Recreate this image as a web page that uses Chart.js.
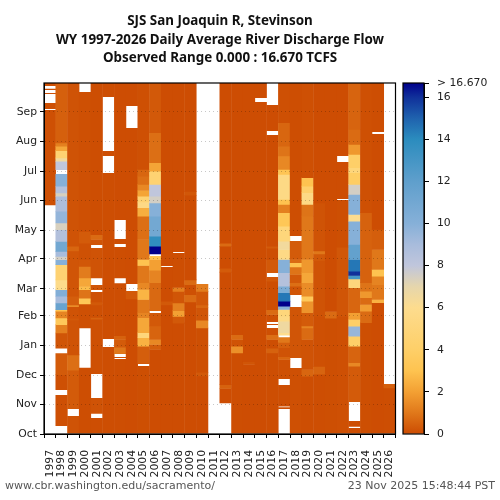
<!DOCTYPE html>
<html>
<head>
<meta charset="utf-8">
<script src="https://cdn.jsdelivr.net/npm/chart.js@4"></script>
<style>
body { margin:0; background:#fff; width:500px; height:500px; overflow:hidden; position:relative; }
canvas { position:absolute; top:0; }
.foot { position:absolute; top:479px; font:11px "DejaVu Sans"; color:#555; white-space:nowrap; }
#title { position:absolute; left:0; top:11px; width:440px; text-align:center; font:bold 13.4px/18.6px "Noto Sans"; color:#111; }
</style>
</head>
<body>
<canvas id="heat" width="500" height="500" style="left:0"></canvas>
<canvas id="bar" width="102" height="500" style="left:398px"></canvas>
<div id="title">SJS San Joaquin R, Stevinson<br>WY 1997-2026 Daily Average River Discharge Flow<br>Observed Range 0.000 : 16.670 TCFS</div>
<div class="foot" style="left:5px">www.cbr.washington.edu/sacramento/</div>
<div class="foot" style="right:5px">23 Nov 2025 15:48:44 PST</div>
<script>
const years = ['1997','1998','1999','2000','2001','2002','2003','2004','2005','2006','2007','2008','2009','2010','2011','2012','2013','2014','2015','2016','2017','2018','2019','2020','2021','2022','2023','2024','2025','2026'];
const monthDays = [0,31,61,92,123,151,182,212,243,273,304,335];
const monthLabels = ['Oct','Nov','Dec','Jan','Feb','Mar','Apr','May','Jun','Jul','Aug','Sep'];
const colorTicks = [0,2,4,6,8,10,12,14,16,16.67];
const rangeMax = 16.67;

// flow value -> colour
const stopValues = [0,1,2,3,4,6,7,8,9,10,12,14,15,16,16.67];
const stopColors = ['#cc4c02','#e0781a','#f3a033','#fec350','#fecf68','#fddc8e','#e6d6ac','#c0c6dc','#a8bcdc','#86b0d8','#5f9fcc','#2b8cbe','#1f62ae','#10309a','#00008b'];

// runs per water year: [first day, last day, TCFS], day 0 = Oct 1, holes = no data
const wy1997 = [[238,337,.1],[338,344.3,.1],[353.6,354.7,.1],[357.8,359,.1],[362,365,.1]];
const wy1998 = [[8.3,40.6,.08],[45.8,61.4,.1],[61.4,83.9,.35],[89,104.7,.2],[104.7,113.4,1.2],[113.4,120.3,3.4],[120.3,127.3,1.3],[127.3,129,3],[129,135.9,11.5],[135.9,142.9,9],[142.9,149.8,10.2],[149.8,160,5.8],[160,175.8,4.5],[175.8,181,10],[181,184.4,7.5],[184.4,189.6,9],[189.6,200,11],[200,212.2,8.6],[212.2,219.1,7.4],[219.1,231.3,9.6],[231.3,246.9,8.8],[246.9,250.3,7.4],[250.3,257.3,8.5],[257.3,270.4,10],[274.6,283.3,8],[283.3,286.7,6.5],[286.7,294.4,4.5],[294.4,298.9,2.2],[298.9,302.3,1.2],[302.3,365,.45]];
const wy1999 = [[0,18.7,.15],[26,66,.35],[66,82,.8],[82,118,.15],[118,120,.3],[120,132,.15],[132,134,1.5],[134,143,.4],[143,190,.2],[190,195,.6],[195,365,.15]];
const wy2000 = [[0,69,.05],[110,135,.1],[135,141,3.3],[141,149.8,.9],[149.8,153,2.8],[153,162,2.2],[162,174,1.1],[174,181,.25],[181,198,.12],[198,210,.35],[210,355.7,.08]];
const wy2001 = [[0,16.7,.05],[21,37.5,.15],[62.4,119,.08],[119,121,.5],[121,134,.1],[134,137,.3],[137,147.7,.1],[149.8,155,.2],[162,193.5,.15],[196.6,202,.2],[202,207,.7],[207,365,.05]];
const wy2002 = [[0,90.5,.04],[98.8,271.5,.04],[289,294.4,.04],[350.5,365,.04]];
const wy2003 = [[0,78,.05],[79,80.1,.05],[83.2,84,.9],[84,90,1],[90,98,.35],[98,102,.5],[102,156.7,.05],[162,194.5,.05],[197.6,202.8,.05],[222.6,365,.03]];
const wy2004 = [[0,140,.03],[140,148.8,.3],[156,318.3,.03],[341,365,.03]];
const wy2005 = [[0,70.7,.06],[72.7,73.8,.3],[73.8,91,.4],[91,99.8,2.5],[99.8,105,5],[105,120.6,2.2],[120.6,125.8,1.3],[125.8,139.6,1],[139.6,150,2.6],[150,157,1.4],[157,175,1],[175,181.2,3],[181.2,202,1],[202,226.3,.8],[226.3,235,2.4],[235,241,5.5],[241,247.1,4.5],[247.1,253,2.1],[253,259.3,1.4],[259.3,267.9,.8],[267.9,274.9,.6],[274.9,365,.1]];
const wy2006 = [[0,87.6,.03],[87.6,92.8,.4],[92.8,98,1.4],[98,112,.55],[112,125.8,.3],[127.9,129,.6],[129,157,.65],[157,170,1.3],[170,181.2,2],[181.2,185,3],[187,195,16.7],[195,205.5,13.8],[205.5,226.3,11],[226.3,240,10],[240,247,7.5],[247,259.3,8],[259.3,273,4.5],[273,281.8,2.1],[281.8,313,.8],[313,365,.3]];
const wy2007 = [[0,134,.03],[134,137.7,.3],[137.7,173.7,.03],[174.8,365,.03]];
const wy2008 = [[0,115,.03],[115,122,.3],[122,128,2],[128,136,1.2],[136,148,.2],[148,152,1.2],[152,188.3,.05],[189.3,365,.03]];
const wy2009 = [[0,137,.03],[137,144.6,.7],[144.6,155,.08],[155,160,.7],[160,248,.03],[248,252,.25],[252,365,.03]];
const wy2010 = [[0,60,.03],[60,64,.3],[64,110,.06],[110,118,1.4],[118,131,.2],[131,134,.6],[134,148,.25],[148,156,1.1]];
const wy2011 = [];
const wy2012 = [[32,47,.03],[47,51,.5],[51,168,.03],[168,172,.35],[172,195,.03],[195,198,.7],[198,365,.03]];
const wy2013 = [[0,84,.05],[84,91,1.6],[91,98,.15],[98,103,.7],[103,365,.03]];
const wy2014 = [[0,72,.03],[72,75,.2],[75,365,.03]];
const wy2015 = [[0,345.3,.03],[349.5,365,.03]];
const wy2016 = [[0,84,.05],[84,89,.5],[89,98,.05],[98,103,.8],[103,110.3,.1],[113.4,114.4,.1],[116.5,124,.1],[124,129,.7],[129,158.5,.05],[158.5,160,.3],[160,163.3,.25],[167.5,181,.3],[181,193,.05],[193,195,.35],[195,311,.03],[315.2,342.2,.03]];
const wy2017 = [[26,27.7,.05],[28.7,50.9,.05],[57.1,77.2,.1],[77.2,80,.6],[80,89.4,.15],[89.4,95,.4],[95,100.5,1],[102.5,105,6],[105,117.1,6.6],[117.1,122.3,5.5],[122.3,129.2,5],[129.2,132.7,10],[132.7,137.9,16.7],[137.9,146.6,14.5],[146.6,153.5,10.5],[153.5,167.4,8.5],[167.4,181.2,10],[181.2,191.6,5.5],[191.6,200.3,6.5],[200.3,215.9,5],[215.9,229.8,3.3],[229.8,238.5,1.2],[238.5,243.7,3],[243.7,269.7,5.5],[269.7,274.9,3.2],[274.9,288.7,1.4],[288.7,299,.9],[299,323.4,.6],[323.4,365,.1]];
const wy2018 = [[0,68.6,.1],[79,132,.2],[144.5,153.5,.2],[153.5,157,.8],[157,165.6,.3],[165.6,173.3,.9],[173.3,177.8,3],[177.8,181.2,.7],[181.2,200.7,.35],[205.9,365,.05]];
const wy2019 = [[0,59.9,.05],[59.9,66.8,.6],[66.8,98,.15],[98,110,.7],[110,112,1.3],[112,125.8,.35],[125.8,137.9,1.7],[137.9,143,3.4],[143,157,1.5],[157,167.4,2.2],[167.4,181.2,1.8],[181.2,226.3,1],[226.3,238.5,.9],[238.5,250.6,5.5],[250.6,257.5,4.2],[257.5,266.2,3],[266.2,365,.1]];
const wy2020 = [[0,62,.05],[62,70,.55],[70,122,.1],[122,180,.15],[180,187,.3],[187,190,1],[190,240,.15],[240,365,.03]];
const wy2021 = [[0,120,.06],[120,127,.7],[127,365,.03]];
const wy2022 = [[0,122,.1],[122,181,.2],[181,194,.25],[194,243.4,.06],[244.4,282.9,.03],[289.2,365,.03]];
const wy2023 = [[0,6.2,.05],[7.6,13.5,.05],[33.2,70.3,.35],[70.3,73.8,1.4],[73.8,91,.55],[91,101.5,4],[101.5,111.9,9.5],[111.9,118.8,4],[118.8,125.8,2],[125.8,151.8,.6],[151.8,161,5],[161,164.6,13],[164.6,169,16],[169,181.2,14.5],[181.2,196.9,11.8],[196.9,221,10],[221,228,6],[228,248.9,10],[248.9,259.3,7.5],[259.3,271.4,3.8],[271.4,276.6,5],[276.6,290.5,4],[290.5,300.9,1.8],[300.9,316.5,.7],[316.5,365,.55]];
const wy2024 = [[0,115.4,.06],[115.4,127.5,.7],[127.5,134.4,1.9],[134.4,141.4,.7],[141.4,148.3,1.8],[148.3,157,.9],[157,229.8,.5],[229.8,365,.08]];
const wy2025 = [[0,136.2,.03],[136.2,139.6,2.5],[139.6,155,1],[155,163.9,1.3],[163.9,170.8,3],[170.8,191.6,1],[191.6,212.5,.4],[212.5,312,.03],[314,365,.05]];
const wy2026 = [[0,47.5,.05],[47.5,52,.45]];
const flowRuns = [wy1997,wy1998,wy1999,wy2000,wy2001,wy2002,wy2003,wy2004,wy2005,wy2006,wy2007,wy2008,wy2009,wy2010,wy2011,wy2012,wy2013,wy2014,wy2015,wy2016,wy2017,wy2018,wy2019,wy2020,wy2021,wy2022,wy2023,wy2024,wy2025,wy2026];

function hexRgb(h){
    return [1,3,5].map(i => parseInt(h.slice(i,i+2),16));
}
function colorOf(v){
    if(v >= rangeMax) return stopColors[stopColors.length-1];
    let i = 0;
    while(i < stopValues.length-2 && v > stopValues[i+1]) i++;
    let t = (v-stopValues[i])/(stopValues[i+1]-stopValues[i]);
    let a = hexRgb(stopColors[i]), b = hexRgb(stopColors[i+1]);
    return `rgb(${a.map((c,k)=>Math.round(c+(b[k]-c)*t)).join(',')})`;
}

// black box round the plot area
const frame = {
    id:'frame',
    afterDraw(chart){
        let {left,top,width,height} = chart.chartArea;
        let c = chart.ctx;
        c.save();
        c.strokeStyle = '#000';
        c.lineWidth = 1.2;
        c.strokeRect(left,top,width,height);
        c.restore();
    }
};

let cells = [], cellColors = [];
flowRuns.forEach((runs,y)=>{
    runs.forEach((r,i)=>{
        // small overlap so touching runs leave no hairline
        let touching = runs[i+1] && runs[i+1][0] === r[1];
        cells.push({x:years[y], y:[r[0], touching ? r[1]+0.6 : r[1]]});
        cellColors.push(colorOf(r[2]));
    });
});

const tickFont = {family:'DejaVu Sans', size:10.8};

new Chart('heat',{
    type:'bar',
    plugins:[frame],
    data:{
        labels:years,
        datasets:[{data:cells, backgroundColor:cellColors, borderWidth:0, categoryPercentage:1, barPercentage:1.04}]
    },
    options:{
        responsive:false,
        animation:false,
        layout:{padding:{right:104.5, left:0, top:83, bottom:0}},
        plugins:{legend:{display:false}, tooltip:{enabled:false}},
        scales:{
            x:{
                grid:{drawOnChartArea:false, tickColor:'#000', tickLength:4},
                border:{color:'#000'},
                afterFit(s){ s.height = 66; },
                ticks:{font:tickFont, color:'#222', minRotation:90, maxRotation:90, autoSkip:false, padding:12}
            },
            y:{
                min:0,
                max:365,
                afterFit(s){ s.width = 44; },
                afterBuildTicks(s){ s.ticks = monthDays.map(v=>({value:v})); },
                grid:{z:1, color:'rgba(0,0,0,0.22)', tickColor:'#000', tickLength:4, tickBorderDash:[]},
                border:{z:1, color:'#000', dash:[1,3]},
                ticks:{font:tickFont, color:'#222', autoSkip:false, padding:3, callback:v=>monthLabels[monthDays.indexOf(v)]}
            }
        }
    }
});

new Chart('bar',{
    type:'bar',
    plugins:[frame],
    data:{
        labels:['flow'],
        datasets:[{
            data:[[0,rangeMax]],
            borderWidth:0,
            categoryPercentage:1,
            barPercentage:1,
            backgroundColor(ctx){
                let area = ctx.chart.chartArea;
                if(!area) return '#fff';
                let g = ctx.chart.ctx.createLinearGradient(0,area.bottom,0,area.top);
                stopValues.forEach((v,i)=>g.addColorStop(v/rangeMax,stopColors[i]));
                return g;
            }
        }]
    },
    options:{
        responsive:false,
        animation:false,
        layout:{padding:{left:5, top:83, bottom:66, right:0}},
        plugins:{legend:{display:false}, tooltip:{enabled:false}},
        scales:{
            x:{display:false},
            y:{
                position:'right',
                min:0,
                max:rangeMax,
                afterFit(s){ s.width = 76; },
                afterBuildTicks(s){ s.ticks = colorTicks.map(v=>({value:v})); },
                grid:{drawOnChartArea:false, tickColor:'#000', tickLength:5},
                border:{color:'#000'},
                ticks:{font:tickFont, color:'#222', autoSkip:false, padding:8, callback:v=>v===rangeMax ? '> 16.670' : v}
            }
        }
    }
});
</script>
</body>
</html>
